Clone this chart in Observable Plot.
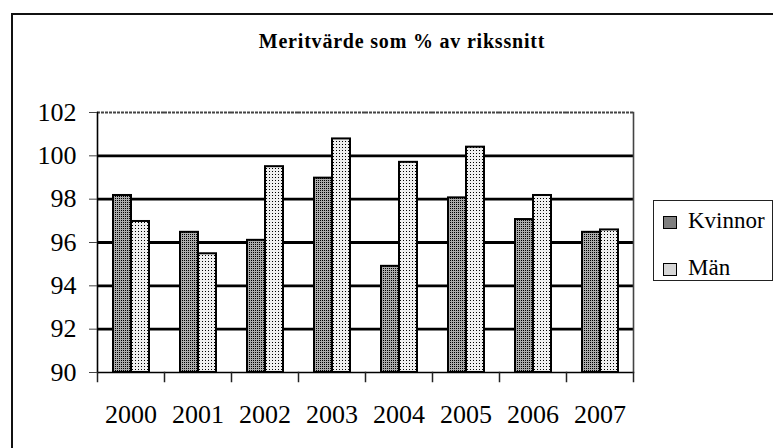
<!DOCTYPE html>
<html>
<head>
<meta charset="utf-8">
<script src="https://cdn.jsdelivr.net/npm/d3@7"></script>
<script src="https://cdn.jsdelivr.net/npm/@observablehq/plot@0.6"></script>
<style>
html, body { margin: 0; padding: 0; background: #fff; overflow: hidden; }
#wrap { position: relative; width: 773px; height: 448px; overflow: hidden; font-family: "Liberation Serif", "Times New Roman", serif; color: #000; }
#border { position: absolute; left: 11px; top: 13px; width: 840px; height: 520px; border: 2px solid #111; box-sizing: border-box; }
#title { position: absolute; left: 0; width: 804px; top: 31px; text-align: center; font-weight: bold; font-size: 20px; line-height: 20px; letter-spacing: 0.8px; white-space: nowrap; }
#chart { position: absolute; left: 0; top: 0; }
#legend { position: absolute; left: 653px; top: 200px; width: 120px; height: 81px; border: 1px solid #222; box-sizing: border-box; background: #fff; }
.sw { position: absolute; left: 9px; width: 12px; height: 11px; border: 1px solid #000; }
.lt { position: absolute; left: 34px; font-size: 23px; line-height: 23px; white-space: nowrap; }
#err { position: absolute; left: 20px; top: 300px; font: 12px monospace; color: red; }
</style>
</head>
<body>
<div id="wrap">
  <div id="border"></div>
  <div id="chart"></div>
  <div id="title"></div>
  <div id="legend"></div>
  <div id="err"></div>
</div>
<script>
// ---- data ----
const chartTitle = "Meritvärde som % av rikssnitt";
const years = ["2000", "2001", "2002", "2003", "2004", "2005", "2006", "2007"];
const seriesNames = ["Kvinnor", "Män"];
const kvinnor = [98.17, 96.47, 96.1, 98.97, 94.9, 98.06, 97.06, 96.47];
const man = [96.97, 95.48, 99.5, 100.78, 99.7, 100.4, 98.17, 96.58];
const yTicks = [90, 92, 94, 96, 98, 100, 102];
const gridValues = [92, 94, 96, 98, 100];
const yMin = 90, yMax = 102;

try {
// ---- table built from the arrays ----
const rows = years.flatMap((y, i) => [
  {year: y, series: seriesNames[0], value: kvinnor[i]},
  {year: y, series: seriesNames[1], value: man[i]}
]);

const W = 773, H = 448, mL = 94, mR = 138, mT = 112, mB = 76;
const plotH = H - mT - mB;
const fills = {"Kvinnor": "url(#patK)", "Män": "url(#patM)"};
const swatch = {"Kvinnor": "#7f7f7f", "Män": "#d6d6d6"};

const chart = Plot.plot({
  width: W, height: H,
  marginLeft: mL, marginRight: mR, marginTop: mT, marginBottom: mB,
  style: {fontFamily: '"Liberation Serif", "Times New Roman", serif', background: "transparent", color: "#000"},
  fx: {domain: years, padding: 0, label: null},
  x: {domain: seriesNames, paddingInner: 0, paddingOuter: 0.78, axis: null},
  y: {domain: [yMin, yMax], label: null},
  marks: [
    Plot.ruleY(gridValues, {stroke: "#000", strokeWidth: 2.8}),
    Plot.ruleY([yMax], {stroke: "#444", strokeWidth: 2, strokeDasharray: "3,1"}),
    ...seriesNames.map(s => Plot.barY(rows.filter(d => d.series === s), {
      fx: "year", x: "series", y1: yMin, y2: "value",
      fill: fills[s], stroke: "#000", strokeWidth: 2
    })),
    Plot.ruleY([yMin], {stroke: "#000", strokeWidth: 1.6}),
    Plot.frame({anchor: "left", facetAnchor: "left", stroke: "#000", strokeWidth: 1.6}),
    Plot.frame({anchor: "right", facetAnchor: "right", stroke: "#444", strokeWidth: 1.6, strokeDasharray: "2,1"}),
    Plot.frame({anchor: "left", insetTop: plotH, insetBottom: -9, stroke: "#222", strokeWidth: 1.5}),
    Plot.frame({anchor: "right", facetAnchor: "right", insetTop: plotH, insetBottom: -9, stroke: "#222", strokeWidth: 1.5}),
    Plot.axisY({ticks: yTicks, tickSize: 8, tickPadding: 13, fontSize: 26, stroke: "#444", label: null}),
    Plot.axisFx({anchor: "bottom", tickSize: 0, tickPadding: 32, fontSize: 26, label: null})
  ]
});

// fill textures for the bars
const defs = d3.select(chart).insert("defs", ":first-child");
const pk = defs.append("pattern").attr("id", "patK").attr("patternUnits", "userSpaceOnUse").attr("width", 2).attr("height", 2);
pk.append("rect").attr("width", 2).attr("height", 2).attr("fill", "#ababab");
pk.append("rect").attr("width", 1).attr("height", 1).attr("fill", "#000");
const pm = defs.append("pattern").attr("id", "patM").attr("patternUnits", "userSpaceOnUse").attr("width", 3).attr("height", 3);
pm.append("rect").attr("width", 3).attr("height", 3).attr("fill", "#efefef");
pm.append("rect").attr("width", 1).attr("height", 1).attr("fill", "#000");

document.getElementById("chart").appendChild(chart);
document.getElementById("title").textContent = chartTitle;

// legend
const legend = document.getElementById("legend");
const swTops = [15, 62], txtTops = [8, 55];
seriesNames.forEach((s, i) => {
  const sw = document.createElement("div");
  sw.className = "sw";
  sw.style.top = swTops[i] + "px";
  sw.style.background = swatch[s];
  legend.appendChild(sw);
  const t = document.createElement("div");
  t.className = "lt";
  t.style.top = txtTops[i] + "px";
  t.textContent = s;
  legend.appendChild(t);
});
} catch (e) {
  document.getElementById("err").textContent = String(e);
}
</script>
</body>
</html>
